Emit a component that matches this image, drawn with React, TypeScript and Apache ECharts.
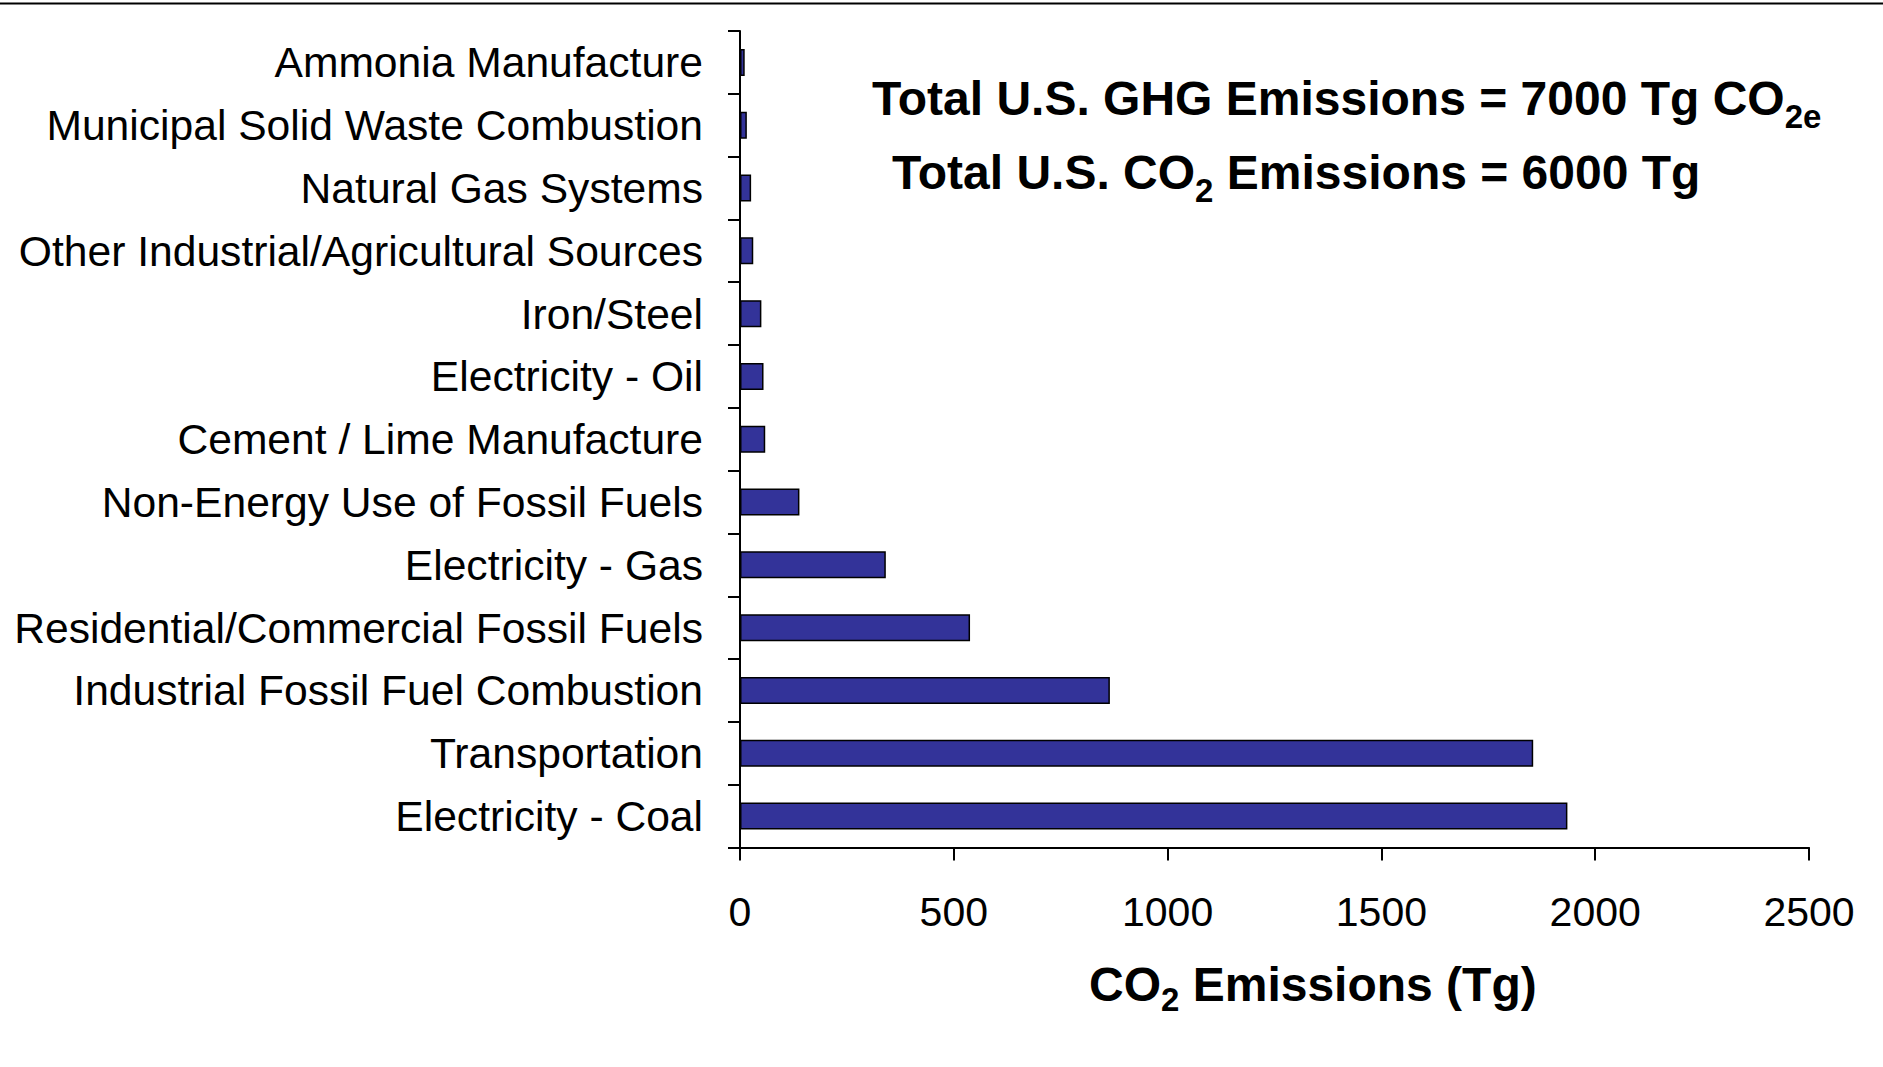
import React, { useEffect, useRef } from "react";
import * as echarts from "echarts";

// Categories listed bottom-to-top (ECharts category axis order)
const categories = [
  "Electricity - Coal",
  "Transportation",
  "Industrial Fossil Fuel Combustion",
  "Residential/Commercial Fossil Fuels",
  "Electricity - Gas",
  "Non-Energy Use of Fossil Fuels",
  "Cement / Lime Manufacture",
  "Electricity - Oil",
  "Iron/Steel",
  "Other Industrial/Agricultural Sources",
  "Natural Gas Systems",
  "Municipal Solid Waste Combustion",
  "Ammonia Manufacture",
];
const emissions = [1935, 1855, 865, 538, 341, 139, 59, 55, 50, 31, 26, 16, 11];
const xTicks = { min: 0, max: 2500, interval: 500 };

const FONT = "'Liberation Sans', Arial, Helvetica, sans-serif";

export default function App() {
  const ref = useRef<HTMLDivElement>(null);
  useEffect(() => {
    if (!ref.current) return;
    const chart = echarts.init(ref.current, null, { renderer: "svg" });
    const mainStyle = {
      fontSize: 48,
      fontWeight: "bold",
      fontFamily: FONT,
      color: "#000",
      lineHeight: 56,
      verticalAlign: "top",
    };
    const subStyle = (pad: number) => ({
      fontSize: 33,
      fontWeight: "bold",
      fontFamily: FONT,
      color: "#000",
      lineHeight: 33,
      verticalAlign: "top",
      padding: [pad, 0, 0, 0],
    });
    chart.setOption({
      animation: false,
      backgroundColor: "#fff",
      grid: { left: 740, right: 74, top: 31, bottom: 219.5, containLabel: false },
      xAxis: {
        type: "value",
        min: xTicks.min,
        max: xTicks.max,
        interval: xTicks.interval,
        axisLine: { show: true, lineStyle: { color: "#000", width: 2 } },
        axisTick: { show: true, length: 13, lineStyle: { color: "#000", width: 2 } },
        axisLabel: {
          fontSize: 41,
          color: "#000",
          fontFamily: FONT,
          margin: 44,
          formatter: (v: number) => String(v),
        },
        splitLine: { show: false },
      },
      yAxis: {
        type: "category",
        data: categories,
        axisLine: { show: true, lineStyle: { color: "#000", width: 2 } },
        axisTick: { show: true, length: 12, alignWithLabel: false, lineStyle: { color: "#000", width: 2 } },
        axisLabel: {
          fontSize: 42.6,
          color: "#000",
          fontFamily: FONT,
          margin: 37,
          interval: 0,
          padding: [5, 0, 0, 0],
        },
        splitLine: { show: false },
      },
      series: [
        {
          type: "bar",
          data: emissions,
          barWidth: 27,
          itemStyle: { color: "#333399", borderColor: "#000", borderWidth: 1.5 },
        },
      ],
      graphic: [
        {
          type: "line",
          shape: { x1: 0, y1: 3.5, x2: 1883, y2: 3.5 },
          style: { stroke: "#000", lineWidth: 2 },
        },
        {
          type: "text",
          x: 872,
          y: 74,
          style: {
            text: "{m|Total U.S. GHG Emissions = 7000 Tg CO}{s|2e}",
            rich: { m: mainStyle, s: subStyle(26) },
            verticalAlign: "top",
            align: "left",
          },
        },
        {
          type: "text",
          x: 892,
          y: 148,
          style: {
            text: "{m|Total U.S. CO}{s|2}{m| Emissions = 6000 Tg}",
            rich: { m: mainStyle, s: subStyle(26) },
            verticalAlign: "top",
            align: "left",
          },
        },
        {
          type: "text",
          x: 1089,
          y: 960,
          style: {
            text: "{m|CO}{s|2}{m| Emissions (Tg)}",
            rich: { m: mainStyle, s: subStyle(23) },
            verticalAlign: "top",
            align: "left",
          },
        },
      ],
    });
    return () => chart.dispose();
  }, []);
  return (
    <div
      ref={ref}
      style={{ position: "fixed", left: 0, top: 0, width: 1883, height: 1067, background: "#fff" }}
    />
  );
}
